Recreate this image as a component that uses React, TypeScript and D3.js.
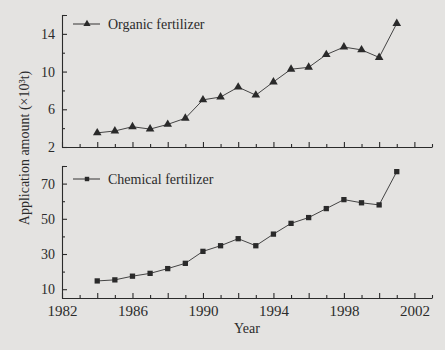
import React, { useEffect, useRef } from 'react';
import * as d3 from 'd3';

// values
const years = [1984, 1985, 1986, 1987, 1988, 1989, 1990, 1991, 1992, 1993, 1994, 1995, 1996, 1997, 1998, 1999, 2000, 2001];
const organic = [3.5, 3.7, 4.15, 3.9, 4.4, 5.05, 7.0, 7.3, 8.35, 7.5, 8.9, 10.25, 10.45, 11.8, 12.6, 12.3, 11.5, 15.1];
const chemical = [14.7, 15.3, 17.4, 19.0, 21.7, 24.7, 31.5, 34.7, 38.7, 34.7, 41.3, 47.4, 50.7, 55.8, 60.9, 59.1, 57.9, 76.8];
const xLabels = [1982, 1986, 1990, 1994, 1998, 2002];
const organicTicks = [2, 6, 10, 14];
const chemicalTicks = [10, 30, 50, 70];

const W = 445;
const H = 350;
const ink = '#2b2b2b';
const font = '"Liberation Serif", "DejaVu Serif", serif';

const App = () => {
  const svgRef = useRef<SVGSVGElement>(null);

  useEffect(() => {
    const svg = d3.select(svgRef.current);
    svg.selectAll('*').remove();

    const left = 62, right = 432;
    const x = d3.scaleLinear().domain([1982, 2003]).range([left, right]);

    const panels = [
      { name: 'Organic fertilizer', values: organic, ticks: organicTicks, domain: [2, 16], top: 15, bottom: 147, marker: d3.symbolTriangle, size: 32, labels: false },
      { name: 'Chemical fertilizer', values: chemical, ticks: chemicalTicks, domain: [5, 80], top: 166, bottom: 298, marker: d3.symbolSquare, size: 28, labels: true },
    ];

    panels.forEach(p => {
      const y = d3.scaleLinear().domain(p.domain).range([p.bottom, p.top]);
      const g = svg.append('g');

      // y axis: major (labelled) and minor ticks, pointing inward
      const minor = d3.range(p.ticks[0] + (p.ticks[1] - p.ticks[0]) / 2, p.domain[1] + 0.01, p.ticks[1] - p.ticks[0]);
      g.append('g')
        .attr('class', 'yax')
        .attr('transform', `translate(${left},0)`)
        .call(d3.axisLeft(y).tickValues(p.ticks).tickSize(-5).tickSizeOuter(-5).tickPadding(7));
      g.append('g')
        .attr('transform', `translate(${left},0)`)
        .call(d3.axisLeft(y).tickValues(minor).tickSize(-3).tickSizeOuter(0).tickFormat(() => ''))
        .call(a => a.select('.domain').remove());

      // x axis
      const evenYears = d3.range(1982, 2003, 2);
      const oddYears = d3.range(1983, 2004, 2);
      g.append('g')
        .attr('class', 'xax')
        .attr('transform', `translate(0,${p.bottom})`)
        .call(d3.axisBottom(x).tickValues(evenYears).tickSize(-5).tickSizeOuter(0).tickPadding(7)
          .tickFormat(d => (p.labels && xLabels.includes(+d) ? String(d) : '')));
      g.append('g')
        .attr('transform', `translate(0,${p.bottom})`)
        .call(d3.axisBottom(x).tickValues(oddYears).tickSize(-3).tickSizeOuter(0).tickFormat(() => ''))
        .call(a => a.select('.domain').remove());

      g.selectAll('.domain, .tick line').attr('stroke', ink).attr('stroke-width', 1.1);
      g.selectAll('.tick text').attr('fill', ink).attr('font-family', font).attr('font-size', 14);
      g.selectAll('.xax .tick text').attr('font-size', 15);

      // series line + markers
      const line = d3.line<number>().x((_, i) => x(years[i])).y(v => y(v));
      g.append('path')
        .datum(p.values)
        .attr('d', line)
        .attr('fill', 'none')
        .attr('stroke', '#444')
        .attr('stroke-width', 1);
      g.selectAll('.pt')
        .data(p.values)
        .join('path')
        .attr('class', 'pt')
        .attr('transform', (v, i) => `translate(${x(years[i])},${y(v)})`)
        .attr('d', d3.symbol(p.marker, p.size)())
        .attr('fill', '#2a2a2a');

      // legend
      const ly = p.top + 9 + (p.labels ? 4 : 0);
      const lg = g.append('g').attr('transform', `translate(73,${ly})`);
      lg.append('line').attr('x1', 0).attr('x2', 27).attr('stroke', '#444').attr('stroke-width', 1.1);
      lg.append('path').attr('transform', 'translate(14,0)').attr('d', d3.symbol(p.marker, p.size * 0.7)()).attr('fill', '#2a2a2a');
      lg.append('text')
        .attr('x', 35).attr('dy', '0.33em')
        .attr('font-family', font).attr('font-size', 14).attr('fill', ink)
        .text(p.name);
    });

    svg.append('text')
      .attr('x', (left + right) / 2).attr('y', 333)
      .attr('text-anchor', 'middle')
      .attr('font-family', font).attr('font-size', 14).attr('fill', ink)
      .text('Year');

    svg.append('text')
      .attr('transform', 'translate(29,148) rotate(-90)')
      .attr('text-anchor', 'middle')
      .attr('font-family', font).attr('font-size', 14).attr('fill', ink)
      .text('Application amount (×10³t)');
  }, []);

  return (
    <svg ref={svgRef} width={W} height={H}
      style={{ position: 'absolute', left: 0, top: 0, background: '#e4e3e1' }} />
  );
};

export default App;
